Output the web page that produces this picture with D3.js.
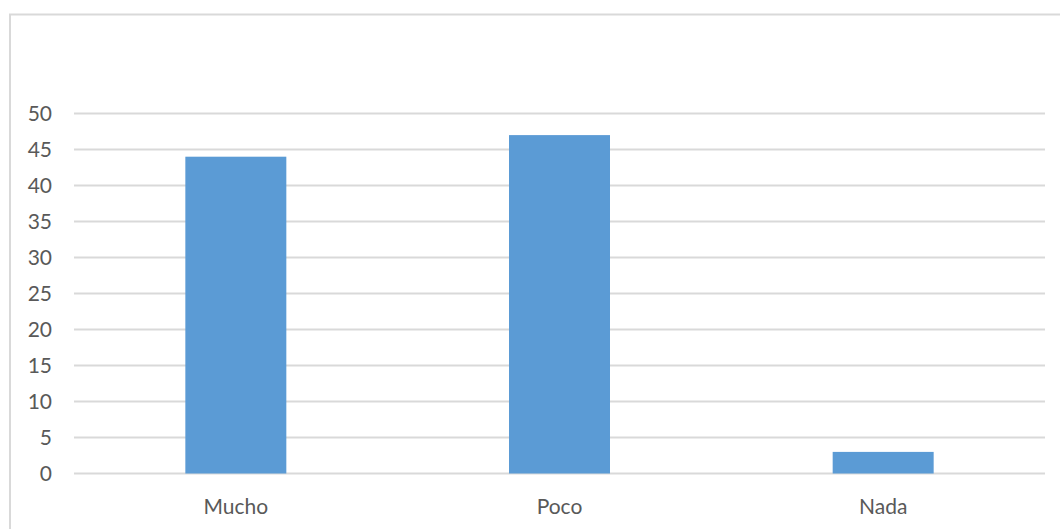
<!DOCTYPE html>
<html><head><meta charset="utf-8">
<script src="https://cdn.jsdelivr.net/npm/d3@7"></script>
<style>html,body{margin:0;padding:0;background:#fff;overflow:hidden}</style>
</head><body>
<script>
const categories = ["Mucho", "Poco", "Nada"];
const values = [44, 47, 3];
const yTicks = [0, 5, 10, 15, 20, 25, 30, 35, 40, 45, 50];

(function () {
const W = 1060, H = 529;
const svg = d3.select("body").append("svg").attr("width", W).attr("height", H);

// chart border
svg.append("rect").attr("x", 10).attr("y", 14.5).attr("width", 1070).attr("height", 540)
  .attr("fill", "none").attr("stroke", "#D9D9D9").attr("stroke-width", 2);

const pLeft = 74, pRight = 1045, pTop = 113.5, pBottom = 473.5;
const x = d3.scaleBand().domain(categories).range([pLeft, pRight]).paddingInner(0.688).paddingOuter(0.344);
const y = d3.scaleLinear().domain([0, 50]).range([pBottom, pTop]);

const font = "Lato, 'Open Sans', sans-serif";

// gridlines
svg.append("g").selectAll("line").data(yTicks).join("line")
  .attr("x1", pLeft).attr("x2", pRight)
  .attr("y1", d => y(d)).attr("y2", d => y(d))
  .attr("stroke", "#D9D9D9").attr("stroke-width", 2);

// y axis labels
const yAxis = d3.axisLeft(y).tickValues(yTicks).tickSize(0).tickPadding(0);
const gy = svg.append("g").attr("transform", `translate(52,0)`).call(yAxis);
gy.select(".domain").remove();
gy.selectAll("text").attr("fill", "#595959").style("font-family", font).style("font-size", "21px").attr("dy", "0.35em");

// bars
svg.append("g").selectAll("rect").data(values).join("rect")
  .attr("x", (d, i) => x(categories[i]))
  .attr("width", x.bandwidth())
  .attr("y", d => y(d))
  .attr("height", d => y(0) - y(d))
  .attr("fill", "#5B9BD5");

// x axis labels
const xAxis = d3.axisBottom(x).tickSize(0).tickPadding(0);
const gx = svg.append("g").attr("transform", `translate(0,${pBottom + 26})`).call(xAxis);
gx.select(".domain").remove();
gx.selectAll("text").attr("fill", "#595959").style("font-family", font).style("font-size", "21px");
})();
</script>
</body></html>
